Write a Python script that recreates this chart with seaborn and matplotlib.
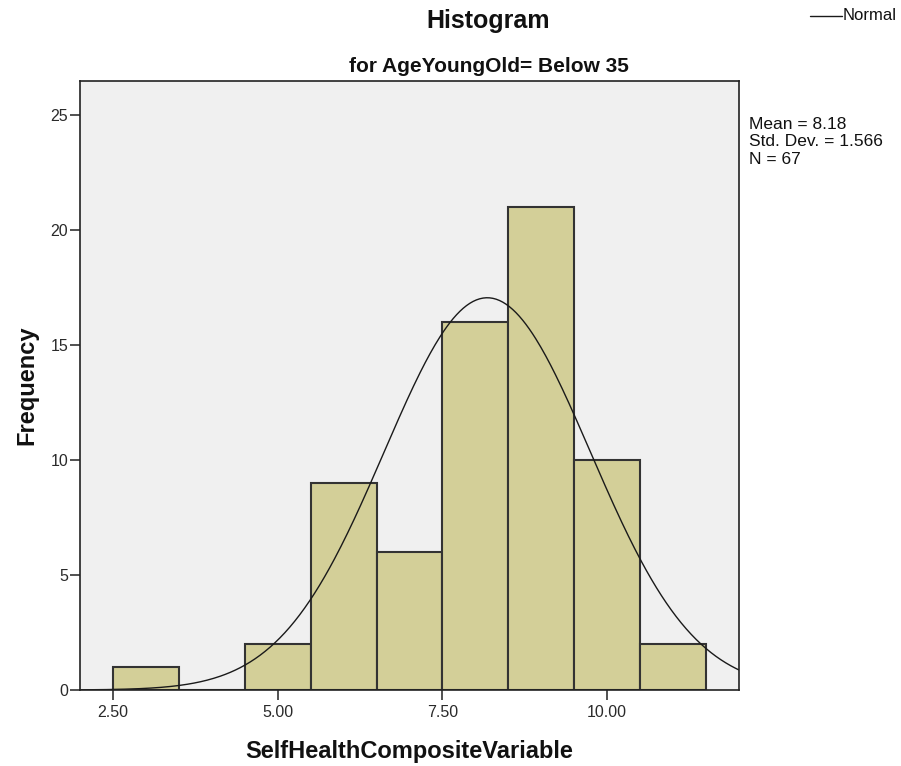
import numpy as np
import pandas as pd
import matplotlib
matplotlib.use("Agg")
import matplotlib.pyplot as plt
import seaborn as sns

# Binned counts of SelfHealthCompositeVariable (bin width 1.0)
bin_edges = [2.5, 3.5, 4.5, 5.5, 6.5, 7.5, 8.5, 9.5, 10.5, 11.5]
bin_counts = [1, 0, 2, 9, 6, 16, 21, 10, 2]
mean_val = 8.18
sd_val = 1.566
n_val = 67
x_ticks = [2.5, 5.0, 7.5, 10.0]
x_tick_labels = ["2.50", "5.00", "7.50", "10.00"]
y_ticks = [0, 5, 10, 15, 20, 25]

sns.set_theme(style="white")
plt.rcParams["font.family"] = ["Liberation Sans", "DejaVu Sans"]

centers = [(a + b) / 2 for a, b in zip(bin_edges[:-1], bin_edges[1:])]
df = pd.DataFrame({"value": centers, "count": bin_counts})

fig = plt.figure(figsize=(9.01, 7.66), dpi=100)
ax = fig.add_axes([80 / 901, 1 - 690 / 766, 659 / 901, 609 / 766])
ax.set_facecolor("#F0F0F0")

sns.histplot(data=df, x="value", weights="count", bins=bin_edges, ax=ax,
             color="#D3CF98", edgecolor="#333333", linewidth=1.5, alpha=1.0)

# Normal curve scaled to counts (bin width 1)
xs = np.linspace(2.0, 12.0, 400)
width = bin_edges[1] - bin_edges[0]
ys = n_val * width / (sd_val * np.sqrt(2 * np.pi)) * np.exp(-0.5 * ((xs - mean_val) / sd_val) ** 2)
sns.lineplot(x=xs, y=ys, ax=ax, color="#1A1A1A", linewidth=1.0)

ax.set_xlim(2.0, 12.0)
ax.set_ylim(0, 26.5)
ax.set_xticks(x_ticks)
ax.set_xticklabels(x_tick_labels)
ax.set_yticks(y_ticks)
ax.tick_params(axis="both", which="both", direction="out", length=7.5, width=1.1,
               color="#222222", labelsize=11.5, labelcolor="#2A2A2A",
               bottom=True, left=True)
ax.tick_params(axis="x", pad=3)
ax.tick_params(axis="y", pad=1)
for s in ax.spines.values():
    s.set_color("#222222")
    s.set_linewidth(1.2)

ax.set_xlabel("SelfHealthCompositeVariable", fontsize=17, fontweight="bold",
              labelpad=15, color="#111111")
ax.set_ylabel("Frequency", fontsize=17, fontweight="bold", labelpad=9,
              color="#111111")

fig.text(488 / 901, 1 - 21 / 766, "Histogram", ha="center", va="center",
         fontsize=18, fontweight="bold", color="#111111")
fig.text(489 / 901, 1 - 66 / 766, "for AgeYoungOld= Below 35", ha="center",
         va="center", fontsize=15, fontweight="bold", color="#111111")

fig.text(749 / 901, 1 - 117 / 766,
         f"Mean = {mean_val:.2f}\nStd. Dev. = {sd_val:.3f}\nN = {n_val}",
         ha="left", va="top", fontsize=12.5, linespacing=1.2, color="#111111")

# Legend entry for the normal curve
fig.lines.append(plt.Line2D([810 / 901, 842 / 901], [1 - 16 / 766, 1 - 16 / 766],
                            transform=fig.transFigure, color="#1A1A1A", linewidth=1.0))
fig.text(843 / 901, 1 - 16 / 766, "Normal", ha="left", va="center", fontsize=12,
         color="#111111")

fig.savefig("out.png", dpi=100, facecolor="white")
